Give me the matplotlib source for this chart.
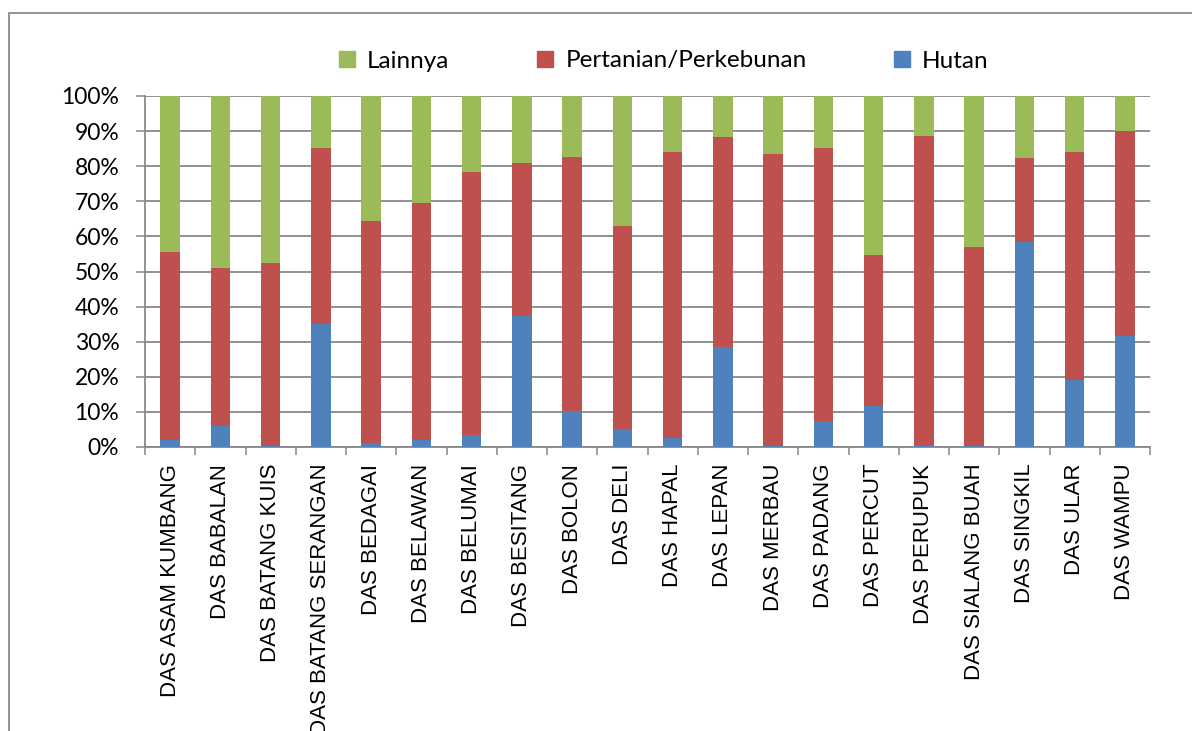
import matplotlib
matplotlib.use("Agg")
import matplotlib.pyplot as plt
from matplotlib.patches import Rectangle, Patch
from matplotlib.ticker import FuncFormatter
import numpy as np

categories = ["DAS ASAM KUMBANG", "DAS BABALAN", "DAS BATANG KUIS", "DAS BATANG SERANGAN",
              "DAS BEDAGAI", "DAS BELAWAN", "DAS BELUMAI", "DAS BESITANG", "DAS BOLON",
              "DAS DELI", "DAS HAPAL", "DAS LEPAN", "DAS MERBAU", "DAS PADANG", "DAS PERCUT",
              "DAS PERUPUK", "DAS SIALANG BUAH", "DAS SINGKIL", "DAS ULAR", "DAS WAMPU"]
hutan = [2.1, 6.1, 0.2, 35.1, 1.2, 2.1, 3.4, 37.3, 10.3, 5.0,
         2.7, 28.5, 0.2, 7.5, 11.8, 0.2, 0.2, 58.4, 19.1, 31.7]
pertanian = [53.4, 45.0, 52.1, 50.1, 63.1, 67.3, 75.0, 43.6, 72.3, 57.9,
             81.3, 59.8, 83.4, 77.8, 42.9, 88.5, 56.8, 23.8, 65.0, 58.3]
lainnya = [44.5, 48.9, 47.7, 14.8, 35.7, 30.6, 21.6, 19.1, 17.4, 37.1,
           16.0, 11.7, 16.4, 14.7, 45.3, 11.3, 43.0, 17.8, 15.9, 10.0]
series_names = ["Lainnya", "Pertanian/Perkebunan", "Hutan"]
yticks = [0, 10, 20, 30, 40, 50, 60, 70, 80, 90, 100]

c_green = "#9BBB59"
c_red = "#C0504D"
c_blue = "#4F81BD"
grid_c = "#888888"

W, H = 1192, 731
fig = plt.figure(figsize=(W / 100, H / 100), dpi=100)
ax = fig.add_axes([145 / W, 1 - 447 / H, (1150 - 145) / W, (447 - 96) / H])

x = np.arange(len(categories))
h = np.array(hutan)
p = np.array(pertanian)
l = np.array(lainnya)
bw = 0.39
ax.bar(x, h, bw, color=c_blue, zorder=3)
ax.bar(x, p, bw, bottom=h, color=c_red, zorder=3)
ax.bar(x, l, bw, bottom=h + p, color=c_green, zorder=3)

ax.set_xlim(-0.5, len(categories) - 0.5)
ax.set_ylim(0, 100)
ax.set_yticks(yticks)
ax.yaxis.set_major_formatter(FuncFormatter(lambda v, pos: f"{int(v)}%"))
ax.yaxis.grid(True, color=grid_c, linewidth=1.3, zorder=0)
ax.set_axisbelow(True)

ax.set_xticks(x)
ax.set_xticklabels(categories, rotation=90, fontfamily="Liberation Sans", fontsize=16)
ax.set_xticks(np.arange(-0.5, len(categories), 1), minor=True)
ax.tick_params(axis="x", which="major", length=0, pad=12)
ax.tick_params(axis="x", which="minor", length=6, width=1.1, color=grid_c, direction="out")
ax.tick_params(axis="y", length=6.5, width=1.1, color=grid_c, direction="out", pad=12)
for lab in ax.get_yticklabels():
    lab.set_fontfamily("Lato")
    lab.set_fontsize(16.5)

for s in ["top", "right"]:
    ax.spines[s].set_visible(False)
for s in ["left", "bottom"]:
    ax.spines[s].set_color(grid_c)
    ax.spines[s].set_linewidth(1.3)

# outer chart border
fig.patches.append(Rectangle((9 / W, -0.1), 1.2, 1 - 13 / H + 0.1, transform=fig.transFigure,
                             fill=False, edgecolor="#8a8a8a", linewidth=1.3))

handles = [Patch(color=c_green), Patch(color=c_red), Patch(color=c_blue)]
fig.legend(handles, series_names, ncol=3, loc="center left",
           bbox_to_anchor=(339 / W, 1 - 61 / H), frameon=False,
           prop={"family": "Lato", "size": 17.5}, handlelength=0.66, handleheight=0.66,
           handletextpad=0.5, columnspacing=3.6, borderpad=0, borderaxespad=0)

fig.savefig("out.png", dpi=100)
